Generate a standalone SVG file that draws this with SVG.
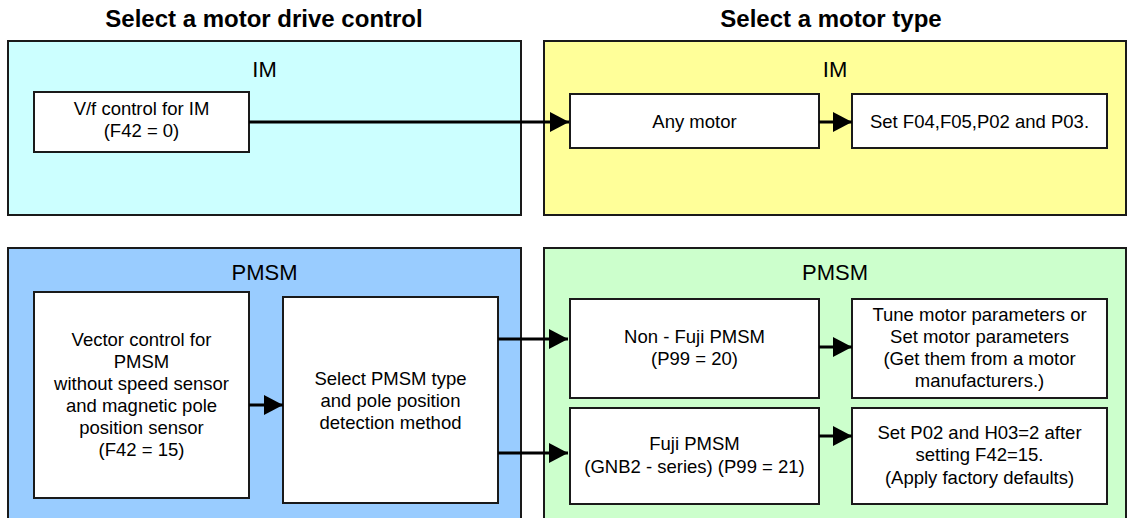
<svg xmlns="http://www.w3.org/2000/svg" width="1127" height="518" viewBox="0 0 1127 518">
<defs>
<style>
.title{font-family:"Liberation Sans",Arial,sans-serif;font-size:24px;font-weight:bold;fill:#000;text-anchor:middle}
.grp{font-family:"Liberation Sans",Arial,sans-serif;font-size:22px;fill:#000;text-anchor:middle}
.txt{font-family:"Liberation Sans",Arial,sans-serif;font-size:18.5px;fill:#000;text-anchor:middle}
.cont{stroke:#1a1a1a;stroke-width:2}
.box{fill:#fff;stroke:#1a1a1a;stroke-width:2}
.conn{stroke:#000;stroke-width:3;fill:none;marker-end:url(#ah)}
</style>
<marker id="ah" markerUnits="userSpaceOnUse" markerWidth="19" markerHeight="20" refX="19" refY="10" orient="auto" viewBox="0 0 19 20">
<path d="M0,0 L19,10 L0,20 z" fill="#000"/>
</marker>
</defs>
<rect width="1127" height="518" fill="#fff"/>
<text class="title" x="264" y="27">Select a motor drive control</text>
<text class="title" x="831" y="27">Select a motor type</text>

<g id="ctrl-im">
<rect class="cont" x="8" y="41" width="513" height="174" fill="#CCFFFF"/>
<text class="grp" x="264.5" y="77">IM</text>
</g>
<g id="type-im">
<rect class="cont" x="544" y="41" width="582" height="174" fill="#FFFF99"/>
<text class="grp" x="835" y="77">IM</text>
</g>
<g id="ctrl-pmsm">
<rect class="cont" x="8" y="248" width="513" height="280" fill="#99CCFF"/>
<text class="grp" x="264.5" y="280">PMSM</text>
</g>
<g id="type-pmsm">
<rect class="cont" x="544" y="248" width="582" height="280" fill="#CCFFCC"/>
<text class="grp" x="835" y="280">PMSM</text>
</g>

<g id="vf">
<rect class="box" x="34" y="92" width="215" height="60"/>
<text class="txt" x="141.5" y="115">V/f control for IM</text>
<text class="txt" x="141.5" y="137">(F42 = 0)</text>
</g>
<g id="any-motor">
<rect class="box" x="570" y="94" width="249" height="54"/>
<text class="txt" x="694.5" y="128">Any motor</text>
</g>
<g id="set-f04">
<rect class="box" x="852" y="94" width="255" height="54"/>
<text class="txt" x="979.5" y="128">Set F04,F05,P02 and P03.</text>
</g>
<g id="vector">
<rect class="box" x="34" y="292" width="215" height="206"/>
<text class="txt" x="141.5" y="346">Vector control for</text>
<text class="txt" x="141.5" y="368">PMSM</text>
<text class="txt" x="141.5" y="390">without speed sensor</text>
<text class="txt" x="141.5" y="412">and magnetic pole</text>
<text class="txt" x="141.5" y="434">position sensor</text>
<text class="txt" x="141.5" y="456">(F42 = 15)</text>
</g>
<g id="select-pmsm">
<rect class="box" x="283" y="297" width="215" height="206"/>
<text class="txt" x="390.5" y="385">Select PMSM type</text>
<text class="txt" x="390.5" y="407">and pole position</text>
<text class="txt" x="390.5" y="429">detection method</text>
</g>
<g id="non-fuji">
<rect class="box" x="570" y="299" width="249" height="99"/>
<text class="txt" x="694.5" y="343">Non - Fuji PMSM</text>
<text class="txt" x="694.5" y="365">(P99 = 20)</text>
</g>
<g id="tune">
<rect class="box" x="852" y="299" width="255" height="99"/>
<text class="txt" x="979.5" y="321">Tune motor parameters or</text>
<text class="txt" x="979.5" y="343">Set motor parameters</text>
<text class="txt" x="979.5" y="365">(Get them from a motor</text>
<text class="txt" x="979.5" y="387">manufacturers.)</text>
</g>
<g id="fuji">
<rect class="box" x="570" y="408" width="249" height="96"/>
<text class="txt" x="694.5" y="450">Fuji PMSM</text>
<text class="txt" x="694.5" y="473">(GNB2 - series) (P99 = 21)</text>
</g>
<g id="set-p02">
<rect class="box" x="852" y="408" width="255" height="96"/>
<text class="txt" x="979.5" y="439">Set P02 and H03=2 after</text>
<text class="txt" x="979.5" y="461">setting F42=15.</text>
<text class="txt" x="979.5" y="484">(Apply factory defaults)</text>
</g>

<g id="connectors">
<line class="conn" x1="249" y1="122" x2="569" y2="122"/>
<line class="conn" x1="819" y1="122" x2="852" y2="122"/>
<line class="conn" x1="249" y1="405" x2="283" y2="405"/>
<line class="conn" x1="498" y1="339" x2="568" y2="339"/>
<line class="conn" x1="498" y1="453" x2="568" y2="453"/>
<line class="conn" x1="819" y1="347" x2="852" y2="347"/>
<line class="conn" x1="819" y1="436" x2="852" y2="436"/>
</g>
</svg>
